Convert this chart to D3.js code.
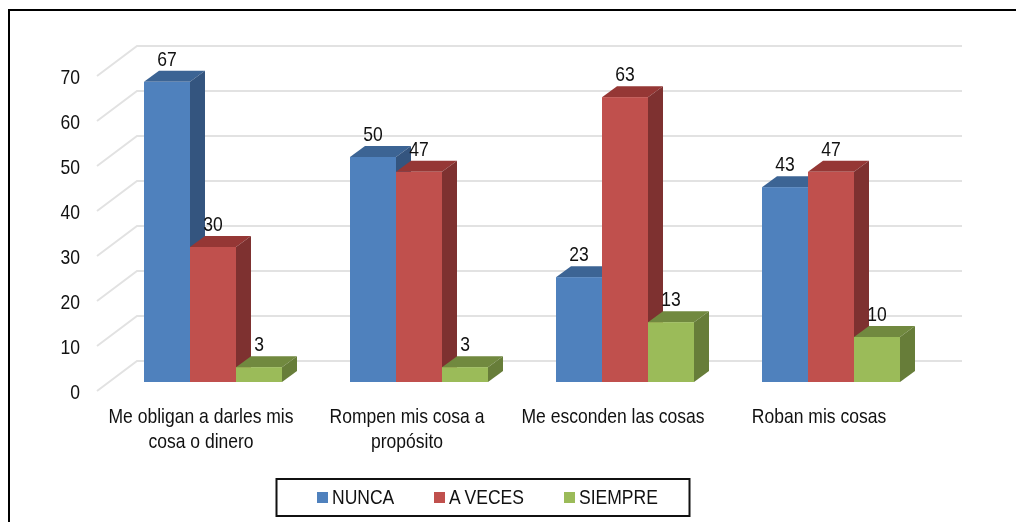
<!DOCTYPE html>
<html><head><meta charset="utf-8">
<script src="https://cdn.jsdelivr.net/npm/d3@7"></script>
<style>
html,body{margin:0;padding:0;background:#fff}
svg{display:block;filter:blur(0.35px)}
text{font-family:"Liberation Sans",Arial,sans-serif;fill:#111}
</style></head><body>
<svg id="c" width="1016" height="522"></svg>
<script>
const categories = [["Me obligan a darles mis","cosa o dinero"],["Rompen mis cosa a","propósito"],["Me esconden las cosas"],["Roban mis cosas"]];
const seriesNames = ["NUNCA","A VECES","SIEMPRE"];
const nunca = [66.7,50,23.3,43.3];
const aVeces = [30,46.7,63.3,46.7];
const siempre = [3.3,3.3,13.3,10];
const yTicks = [0,10,20,30,40,50,60,70];
const frontColors = ["#4f81bd","#c0504d","#9bbb59"];
const sideColors = ["#34557f","#7e3130","#677d39"];
const topColors = ["#3c6494","#953735","#71893f"];

const W=1016,H=522,depthX=15,depthY=11,hx=0.835;
const svg=d3.select("#c");
const series=[nunca,aVeces,siempre];
const fmt=d3.format(".0f");
const y=d3.scaleLinear().domain([0,70]).range([382,67]);
const yWall=d3.scaleLinear().domain([0,70]).range([361,46]);
const yTick=d3.scaleLinear().domain([0,70]).range([391,76]);
const x0=d3.scaleBand().domain(d3.range(categories.length)).range([98,922]);
const bw=46;
const barX=(g,s)=>x0(g)+46+s*bw;

// frame (top and left edges only)
svg.append("path").attr("d",d3.line()([[9,H],[9,10],[W,10]])).attr("fill","none").attr("stroke","#000").attr("stroke-width",2);

// walls
const walls=svg.append("g").attr("fill","none").attr("stroke","#e2e2e2").attr("stroke-width",2);
yTicks.forEach(t=>{
  walls.append("path").attr("d",d3.line()([[97,yTick(t)],[137,yWall(t)],[962,yWall(t)]]));
});

// y axis
const ax=svg.append("g").attr("transform","translate(80,0)").call(d3.axisLeft(yTick).tickValues(yTicks).tickSize(0).tickPadding(0));
ax.select(".domain").remove();
ax.selectAll("text").attr("font-size",21).attr("x",0).attr("dy",null).attr("y",0)
  .attr("text-anchor","end").attr("dominant-baseline","central").attr("transform",`scale(${hx},1)`)
  .style("font-family",'"Liberation Sans"').attr("fill","#111");

// bars
categories.forEach((c,g)=>{
  series.forEach((vals,s)=>{
    const v=vals[g],l=barX(g,s),r=l+bw,t=y(v),b=y(0);
    const P=d3.line();
    svg.append("path").attr("d",P([[l,t],[l+depthX,t-depthY],[r+depthX,t-depthY],[r,t]])+"Z").attr("fill",topColors[s]);
    svg.append("path").attr("d",P([[r,t],[r+depthX,t-depthY],[r+depthX,b-depthY],[r,b]])+"Z").attr("fill",sideColors[s]);
    svg.append("rect").attr("x",l).attr("y",t).attr("width",bw).attr("height",b-t).attr("fill",frontColors[s]);
  });
});

function label(txt,cx,by,size){
  return svg.append("text").text(txt).attr("text-anchor","middle").attr("font-size",size)
    .attr("transform",`translate(${cx},${by}) scale(${hx},1)`);
}
// data labels
categories.forEach((c,g)=>{
  series.forEach((vals,s)=>{
    label(fmt(vals[g]),barX(g,s)+bw/2,y(vals[g])-depthY-5,21);
  });
});
// category labels
categories.forEach((c,g)=>{
  c.forEach((ln,i)=>label(ln,x0(g)+103,423+i*25,21));
});

// legend
svg.append("rect").attr("x",276.5).attr("y",479).attr("width",413).attr("height",37).attr("fill","#fff").attr("stroke","#111").attr("stroke-width",2);
const legendX=[317,434,564];
seriesNames.forEach((n,i)=>{
  svg.append("rect").attr("x",legendX[i]).attr("y",492).attr("width",11).attr("height",11).attr("fill",frontColors[i]);
  svg.append("text").text(n).attr("font-size",21).attr("transform",`translate(${legendX[i]+15},504) scale(${hx},1)`);
});
</script>
</body></html>
